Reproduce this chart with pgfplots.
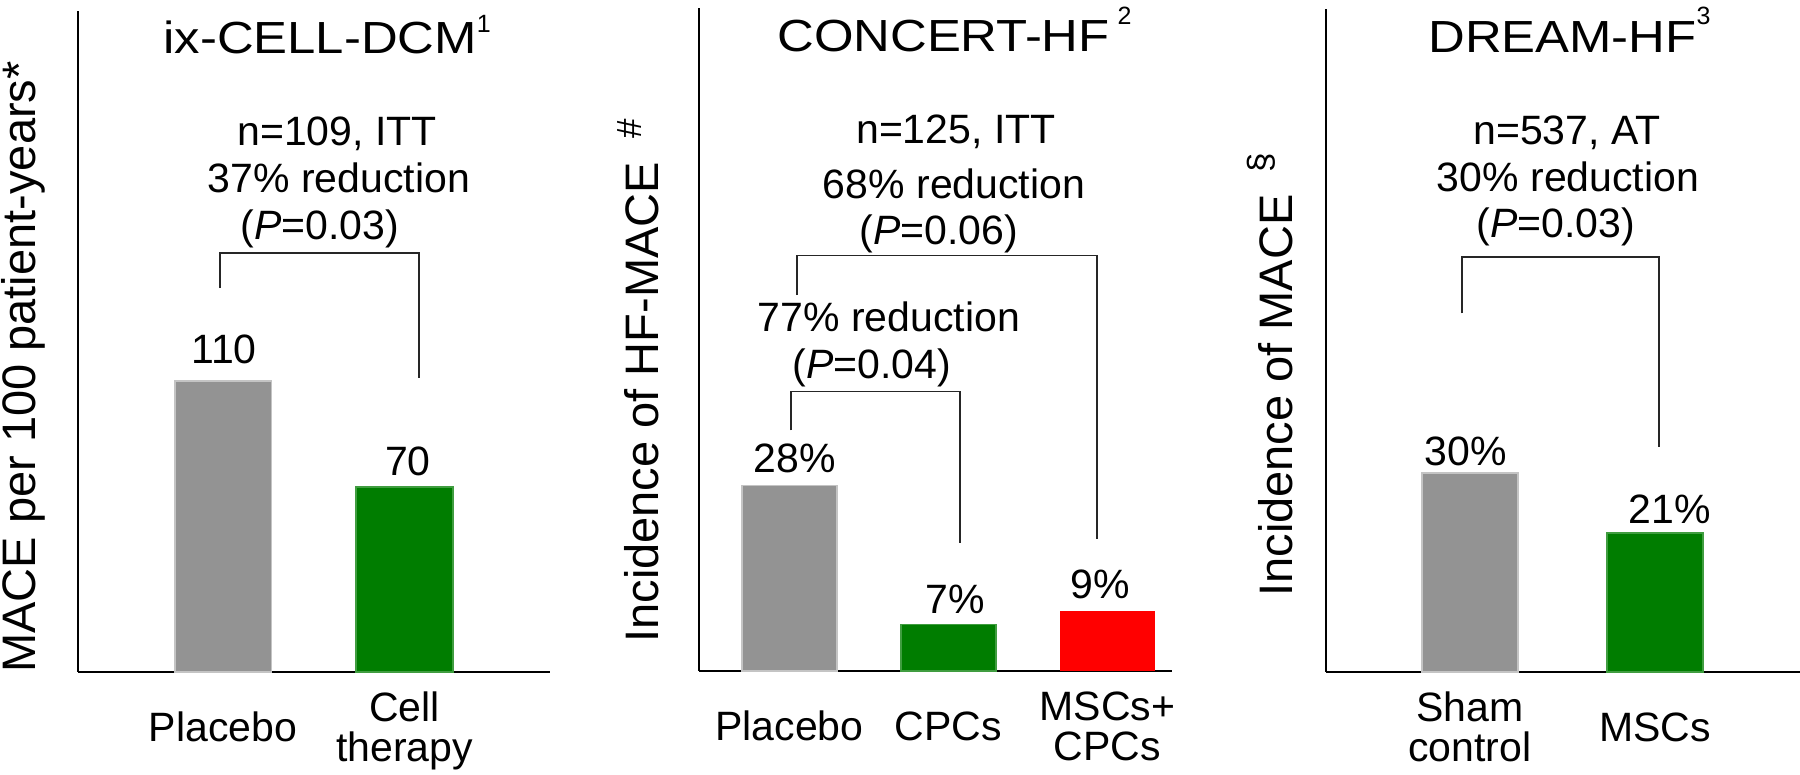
\documentclass[border=0pt]{standalone}
\usepackage{fontspec}
\setmainfont{Liberation Sans}
\newfontfamily\titlefam[FakeStretch=1.13]{Liberation Sans}
\usepackage{pgfplots}
\pgfplotsset{compat=1.18}

\definecolor{barGray}{RGB}{147,147,147}
\definecolor{barGreen}{RGB}{0,125,0}
\definecolor{barRed}{RGB}{255,0,0}

\newcommand{\body}{\fontsize{20.5}{20}\selectfont}
\newcommand{\ylab}{\fontsize{23.5}{24}\selectfont}
\newcommand{\ttl}{\titlefam\fontsize{22.5}{24}\selectfont}
\newcommand{\sups}[2]{\raisebox{#1}{\normalfont\fontsize{12.5}{13}\selectfont #2}}
\newcommand{\one}[1]{\raisebox{10pt}{#1}}

\pgfplotsset{
  panel/.style={
    scale only axis, clip=false,
    ybar, bar shift=0pt,
    ymin=0, enlargelimits=false,
    axis lines*=left,
    axis line style={-, line width=1.2pt},
    ytick=\empty,
    tick style={draw=none},
    xticklabel style={anchor=base, inner sep=0pt, align=center, yshift=-40.5pt, font=\body},
    ylabel style={anchor=base west, inner sep=0pt, font=\ylab},
    every node near coord/.append style={font=\body, inner sep=0pt, anchor=south, text=black},
  },
  gbar/.style={fill=barGray, draw=barGray!55!white, line width=0.8pt},
  vbar/.style={fill=barGreen, draw=barGreen!75!white, line width=0.8pt},
  rbar/.style={fill=barRed, draw=none},
  num/.style 2 args={nodes near coords={\pgfmathprintnumber[assume math mode=true]{\pgfplotspointmeta}},
    every node near coord/.append style={xshift=#1, yshift=#2}},
  pct/.style 2 args={nodes near coords={\pgfmathprintnumber[assume math mode=true]{\pgfplotspointmeta}\%},
    every node near coord/.append style={xshift=#1, yshift=#2}},
}
\tikzset{
  txt/.style={anchor=base, inner sep=0pt, font=\body},
  ttlnode/.style={anchor=base west, inner sep=0pt, font=\ttl},
  bracket/.style={draw=black!85, line width=0.7pt},
}

\begin{document}
\begin{tikzpicture}
\path[use as bounding box] (0,0) rectangle (900pt,387.5pt);

% ix-CELL-DCM
\begin{axis}[panel,
  at={(38.85pt,51.5pt)}, anchor=south west,
  width=236.15pt, height=330.5pt,
  xmin=0.199, xmax=2.802, ymax=250,
  bar width=0.532,
  xtick={1,2},
  xticklabels={\one{Placebo}, {Cell\\therapy}},
  ylabel={MACE per 100 patient-years*},
  ylabel style={at={(axis description cs:-0.0883,-0.0015)}},
]
\addplot[gbar, num={0.5pt}{8pt}] coordinates {(1,110)};
\addplot[vbar, num={1.75pt}{5pt}] coordinates {(2,70)};
\node[ttlnode] at (axis cs:0.669,234.1) {ix-CELL-DCM\sups{10.5pt}{1}};
\node[txt] at (axis cs:1.628,199.1) {n=109, ITT};
\node[txt] at (axis cs:1.639,181.2) {37\% reduction};
\node[txt] at (axis cs:1.534,163.4) {(\textit{P}=0.03)};
\draw[bracket] (axis cs:0.983,145.2) |- (axis cs:2.080,158.5) -- (axis cs:2.080,111.2);
\end{axis}

% CONCERT-HF
\begin{axis}[panel,
  at={(349.5pt,52pt)}, anchor=south west,
  width=236.5pt, height=331.5pt,
  xmin=0.431, xmax=3.406, ymax=100,
  bar width=0.60,
  xtick={1,2,3},
  xticklabels={\one{Placebo}, \one{CPCs}, {MSCs+\\CPCs}},
  ylabel={Incidence of HF-MACE\hspace{12pt}\raisebox{8.5pt}{\fontsize{17.5}{18}\selectfont\#}},
  ylabel style={at={(axis description cs:-0.0846,0.0422)}},
]
\addplot[gbar, pct={2.75pt}{6pt}] coordinates {(1,28)};
\addplot[vbar, pct={3.25pt}{5pt}] coordinates {(2,7)};
\addplot[rbar, pct={-3.75pt}{6pt}] coordinates {(3,9)};
\node[ttlnode] at (axis cs:0.921,93.4) {CONCERT-HF\hspace{4pt}\sups{13.5pt}{2}};
\node[txt] at (axis cs:2.047,79.6) {n=125, ITT};
\node[txt] at (axis cs:2.035,71.3) {68\% reduction};
\node[txt] at (axis cs:1.940,64.3) {(\textit{P}=0.06)};
\node[txt] at (axis cs:1.626,51.2) {77\% reduction};
\node[txt] at (axis cs:1.519,44.1) {(\textit{P}=0.04)};
\draw[bracket] (axis cs:1.047,56.7) |- (axis cs:2.934,62.7) -- (axis cs:2.934,19.9);
\draw[bracket] (axis cs:1.009,36.3) |- (axis cs:2.072,42.2) -- (axis cs:2.072,19.3);
\end{axis}

% DREAM-HF
\begin{axis}[panel,
  at={(663pt,51.5pt)}, anchor=south west,
  width=237pt, height=331.5pt,
  xmin=0.222, xmax=2.784, ymax=100,
  bar width=0.519,
  xtick={1,2},
  xticklabels={{Sham\\control}, \one{MSCs}},
  ylabel={Incidence of MACE\hspace{11pt}\raisebox{10pt}{\fontsize{17.5}{18}\selectfont\S}},
  ylabel style={at={(axis description cs:-0.0717,0.113)}},
]
\addplot[gbar, pct={-2pt}{3pt}] coordinates {(1,30)};
\addplot[vbar, pct={7.5pt}{4pt}] coordinates {(2,21)};
\node[ttlnode] at (axis cs:0.773,93.4) {DREAM-HF\sups{14pt}{3}};
\node[txt] at (axis cs:1.524,79.6) {n=537, AT};
\node[txt] at (axis cs:1.530,72.4) {30\% reduction};
\node[txt] at (axis cs:1.465,65.6) {(\textit{P}=0.03)};
\draw[bracket] (axis cs:0.957,54.1) |- (axis cs:2.022,62.6) -- (axis cs:2.022,33.9);
\end{axis}
\end{tikzpicture}
\end{document}
